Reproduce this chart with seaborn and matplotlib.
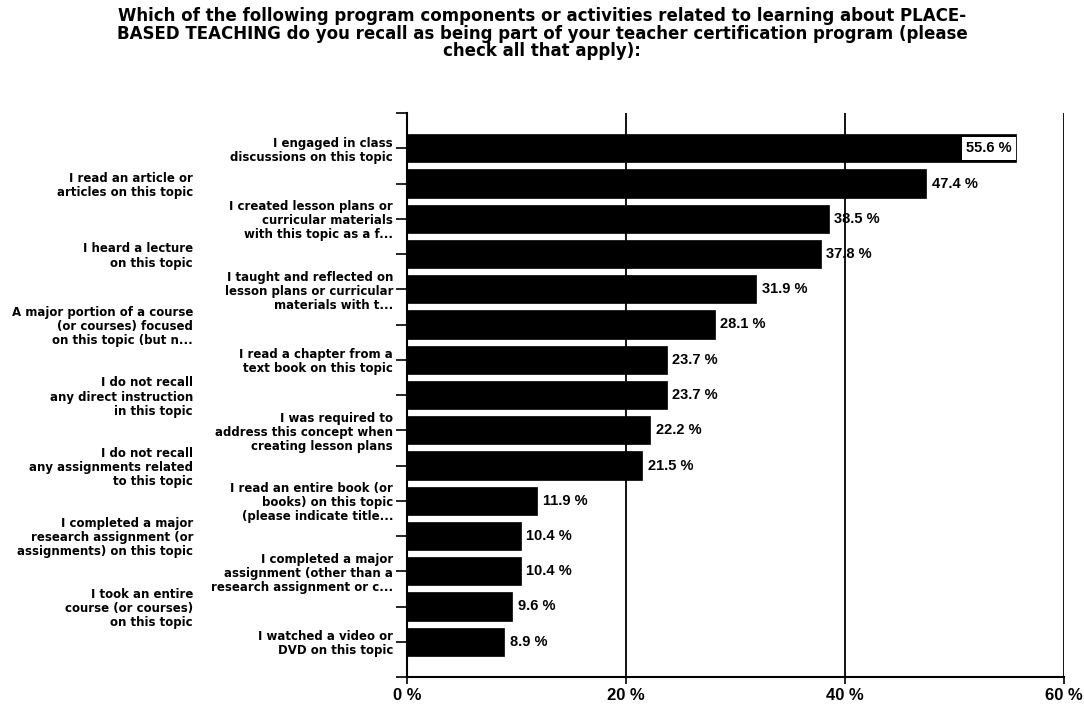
import matplotlib
matplotlib.use("Agg")
import matplotlib.pyplot as plt
import seaborn as sns
import pandas as pd
from matplotlib.transforms import ScaledTranslation

# ---------------- data ----------------
categories = [
    "I engaged in class\ndiscussions on this topic",
    "I read an article or\narticles on this topic",
    "I created lesson plans or\ncurricular materials\nwith this topic as a f...",
    "I heard a lecture\non this topic",
    "I taught and reflected on\nlesson plans or curricular\nmaterials with t...",
    "A major portion of a course\n(or courses) focused\non this topic (but n...",
    "I read a chapter from a\ntext book on this topic",
    "I do not recall\nany direct instruction\nin this topic",
    "I was required to\naddress this concept when\ncreating lesson plans",
    "I do not recall\nany assignments related\nto this topic",
    "I read an entire book (or\nbooks) on this topic\n(please indicate title...",
    "I completed a major\nresearch assignment (or\nassignments) on this topic",
    "I completed a major\nassignment (other than a\nresearch assignment or c...",
    "I took an entire\ncourse (or courses)\non this topic",
    "I watched a video or\nDVD on this topic",
]
percent = [55.6, 47.4, 38.5, 37.8, 31.9, 28.1, 23.7, 23.7, 22.2, 21.5,
           11.9, 10.4, 10.4, 9.6, 8.9]
x_ticks = [0, 20, 40, 60]
x_tick_labels = ["0 %", "20 %", "40 %", "60 %"]
title = ("Which of the following program components or activities related to learning about PLACE-\n"
         "BASED TEACHING do you recall as being part of your teacher certification program (please\n"
         "check all that apply):")

df = pd.DataFrame({"component": categories, "percent": percent})

# ---------------- style ----------------
sns.set_style("white")
plt.rcParams["font.family"] = ["DejaVu Sans"]
plt.rcParams["text.color"] = "black"
plt.rcParams["xtick.color"] = "black"
plt.rcParams["ytick.color"] = "black"
plt.rcParams["axes.labelcolor"] = "black"

W, H = 1084, 704
fig = plt.figure(figsize=(W / 100, H / 100), dpi=100)
ax = fig.add_axes([407 / W, 1 - 677 / H, (1064 - 407) / W, (677 - 113) / H])

sns.barplot(data=df, x="percent", y="component", orient="h", color="black",
            saturation=1, width=0.8, edgecolor="black", linewidth=0.5, ax=ax,
            zorder=2)

ax.set_xlim(0, 60)
ax.set_ylim(len(categories), -1)
ax.set_xlabel("")
ax.set_ylabel("")

for v in x_ticks[1:]:
    ax.axvline(v, color="black", lw=1.3, zorder=1)

ax.set_xticks(x_ticks, x_tick_labels)
ax.set_yticks(range(-1, len(categories) + 1), [""] + categories + [""])

sns.despine(ax=ax, top=True, right=True)
for s in ("left", "bottom"):
    ax.spines[s].set_color("black")
    ax.spines[s].set_linewidth(1.5)

ax.tick_params(axis="y", left=True, length=8, width=1.2, color="black", pad=2,
               labelsize=8.5, labelcolor="black")
ax.tick_params(axis="x", bottom=True, length=5, width=1.2, color="black", pad=3,
               labelsize=12, labelcolor="black")

for lab in ax.get_xticklabels():
    lab.set_fontfamily("Liberation Sans")
    lab.set_fontweight("bold")

shift = ScaledTranslation(-2.0, 0, fig.dpi_scale_trans)
for i, lab in enumerate(ax.get_yticklabels()):
    lab.set_fontweight("bold")
    lab.set_linespacing(1.1)
    idx = i - 1
    if idx >= 0 and idx % 2 == 1:
        lab.set_transform(lab.get_transform() + shift)

# value labels
for i, v in enumerate(percent):
    txt = f"{v:.1f} %"
    if i == 0:
        ax.annotate(txt, xy=(v, i), xytext=(-3, 0), textcoords="offset points",
                    ha="right", va="center", fontsize=10.5, fontweight="bold",
                    family="Liberation Sans", color="black", zorder=5,
                    bbox=dict(boxstyle="square,pad=0.3", fc="white", ec="none"))
    else:
        ax.annotate(txt, xy=(v, i), xytext=(4, 0), textcoords="offset points",
                    ha="left", va="center", fontsize=10.5, fontweight="bold",
                    family="Liberation Sans", color="black", zorder=5)

fig.text(0.5, 1 - 7 / H, title, ha="center", va="top", fontsize=12,
         fontweight="bold", family="DejaVu Sans", color="black",
         linespacing=0.97)

fig.savefig("out.png", dpi=100, facecolor="white")
